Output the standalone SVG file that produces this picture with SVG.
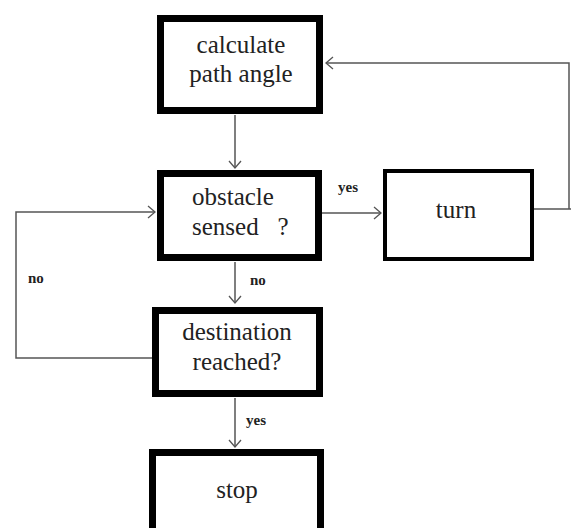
<svg xmlns="http://www.w3.org/2000/svg" width="571" height="528" viewBox="0 0 571 528">
<style>
.box{fill:#fff;stroke:#000;stroke-width:7}
.thin{fill:#fff;stroke:#000;stroke-width:4}
.t{font-family:'Liberation Serif','Times New Roman','DejaVu Serif',serif;font-size:25px;fill:#222}
.lbl{font-family:'Liberation Serif','Times New Roman','DejaVu Serif',serif;font-size:15px;font-weight:bold;fill:#222}
.c{fill:none;stroke:#555;stroke-width:1.5}
</style>
<defs>
<marker id="ah" markerUnits="userSpaceOnUse" markerWidth="12" markerHeight="14" refX="8" refY="7" orient="auto">
<path d="M1,1 L8,7 L1,13" fill="none" stroke="#555" stroke-width="1.3"/>
</marker>
</defs>
<rect width="571" height="528" fill="#fff"/>
<g id="connectors">
<path class="c" d="M235,115 V168" marker-end="url(#ah)"/>
<path class="c" d="M322,213 H381" marker-end="url(#ah)"/>
<path class="c" d="M534,209 H571"/>
<path class="c" d="M569,209 V63 H326" marker-end="url(#ah)"/>
<path class="c" d="M235,262 V303" marker-end="url(#ah)"/>
<path class="c" d="M152,358 H16 V212 H155" marker-end="url(#ah)"/>
<path class="c" d="M235,398 V447" marker-end="url(#ah)"/>
<text class="lbl" x="338" y="192">yes</text>
<text class="lbl" x="250" y="285">no</text>
<text class="lbl" x="28" y="283">no</text>
<text class="lbl" x="246" y="425">yes</text>
</g>
<g id="calc">
<rect class="box" x="160.5" y="18.5" width="159" height="92"/>
<text class="t" x="241" y="53" text-anchor="middle">calculate</text>
<text class="t" x="241" y="82" text-anchor="middle">path angle</text>
</g>
<g id="obstacle">
<rect class="box" x="160.5" y="173.5" width="158" height="84"/>
<text class="t" x="192" y="205">obstacle</text>
<text class="t" x="192" y="235" xml:space="preserve">sensed   ?</text>
</g>
<g id="turn">
<rect class="thin" x="385" y="171" width="147" height="88"/>
<text class="t" x="456" y="218" text-anchor="middle">turn</text>
</g>
<g id="destination">
<rect class="box" x="155.5" y="310.5" width="164" height="83"/>
<text class="t" x="237" y="340" text-anchor="middle">destination</text>
<text class="t" x="237" y="370" text-anchor="middle">reached?</text>
</g>
<g id="stop">
<rect class="box" x="152.5" y="452.5" width="168" height="90"/>
<text class="t" x="237" y="498" text-anchor="middle">stop</text>
</g>
</svg>
